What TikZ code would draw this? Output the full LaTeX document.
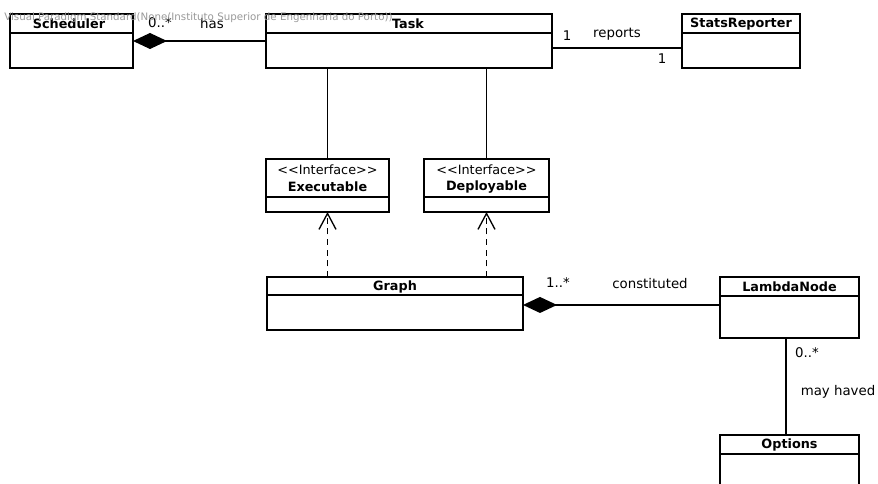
\documentclass[tikz,border=0pt]{standalone}
\usepackage{fontspec}
\setmainfont{DejaVu Sans}
\usetikzlibrary{arrows.meta,calc}

% Class box: name, x1, y1, x2, y2, y of the line under the header
\newcommand{\umlclass}[6]{%
  \node[classbox, minimum width={(#4-#2)*0.75pt}, minimum height={(#5-#3)*0.75pt}]
    (#1) at ({(#2+#4)/2},{(#3+#5)/2}) {};
  \draw[line width=1pt] (#2,#6) -- (#4,#6);
}
% Stereotype text, with the angle brackets kept apart
\newcommand{\stereotype}[1]{<\kern0pt<#1>\kern0pt>}

\begin{document}
\begin{tikzpicture}[x=0.75pt,y=-0.75pt,
  classbox/.style={draw, line width=1pt, inner sep=0pt, outer sep=0pt, fill=white},
  classname/.style={font=\bfseries\fontsize{9.6}{11}\selectfont, inner sep=0pt},
  stereo/.style={font=\fontsize{9.6}{11}\selectfont, inner sep=0pt},
  lbl/.style={font=\fontsize{10}{12}\selectfont, inner sep=0pt},
  assoc/.style={line width=1pt},
  compos/.style={line width=1pt, -{Diamond[length=25.5pt,width=12pt]}},
  realize/.style={line width=1pt, dash pattern=on 4.5pt off 3.5pt,
    -{Straight Barb[length=12pt,width=12.75pt,line width=1pt]}},
  watermark/.style={font=\fontsize{7.7}{9}\selectfont, text=black!40, inner sep=0pt, anchor=west},
]
\useasboundingbox (0,0) rectangle (878,484);
\clip (0,0) rectangle (878,484);
\fill[white] (0,0) rectangle (878,484);

% Classes
\umlclass{sched}{10}{14}{133}{68}{33}
\umlclass{task}{266}{14}{552}{68}{33}
\umlclass{stats}{682}{14}{800}{68}{33}
\umlclass{exec}{266}{159}{389}{212}{197}
\umlclass{deploy}{424}{159}{549}{212}{197}
\umlclass{graph}{267}{277}{523}{330}{295}
\umlclass{lambda}{720}{277}{859}{338}{296}
\umlclass{options}{720}{435}{859}{500}{454}

\node[classname] (sched-name) at (69,24) {Scheduler};
\node[classname] (task-name) at (408,24) {Task};
\node[classname] (stats-name) at (741,24) {StatsReporter};
\node[stereo] (exec-st) at (327.5,170) {\stereotype{Interface}};
\node[classname] (exec-name) at (327.5,187) {Executable};
\node[stereo] (deploy-st) at (486.5,170) {\stereotype{Interface}};
\node[classname] (deploy-name) at (486.5,187) {Deployable};
\node[classname] (graph-name) at (395,286.5) {Graph};
\node[classname] (lambda-name) at (789.5,287) {LambdaNode};
\node[classname] (options-name) at (789.5,445) {Options};

% Relations
\coordinate (gdock) at ([yshift=-1.1pt]graph.east);
\draw[compos] (task.west) -- (sched.east);
\draw[assoc] ([yshift=-5.25pt]task.east) -- ([yshift=-5.25pt]stats.west);
\draw[assoc] (exec.north) -- (exec.north |- task.south);
\draw[assoc] (deploy.north) -- (deploy.north |- task.south);
\draw[realize] (exec.south |- graph.north) -- (exec.south);
\draw[realize] (deploy.south |- graph.north) -- (deploy.south);
\draw[compos] (lambda.west |- gdock) -- (gdock);
\draw[assoc] ([xshift=-2.6pt]lambda.south) -- ([xshift=-2.6pt]options.north);

% Role and association labels
\node[lbl] (m-sched) at (160,23) {0..*};
\node[lbl] (l-has) at (212,24) {has};
\node[lbl] (m-task) at (567,36) {1};
\node[lbl] (l-reports) at (617,34) {reports};
\node[lbl] (m-stats) at (662,59) {1};
\node[lbl] (m-graph) at (558,283) {1..*};
\node[lbl] (l-const) at (650,284) {constituted};
\node[lbl] (m-lambda) at (807,353) {0..*};
\node[lbl] (l-may) at (838,392) {may haved};

% Editor stamp
\node[watermark] (stamp) at (4,18) {Visual Paradigm Standard(None(Instituto Superior de Engenharia do Porto))};
\end{tikzpicture}
\end{document}
